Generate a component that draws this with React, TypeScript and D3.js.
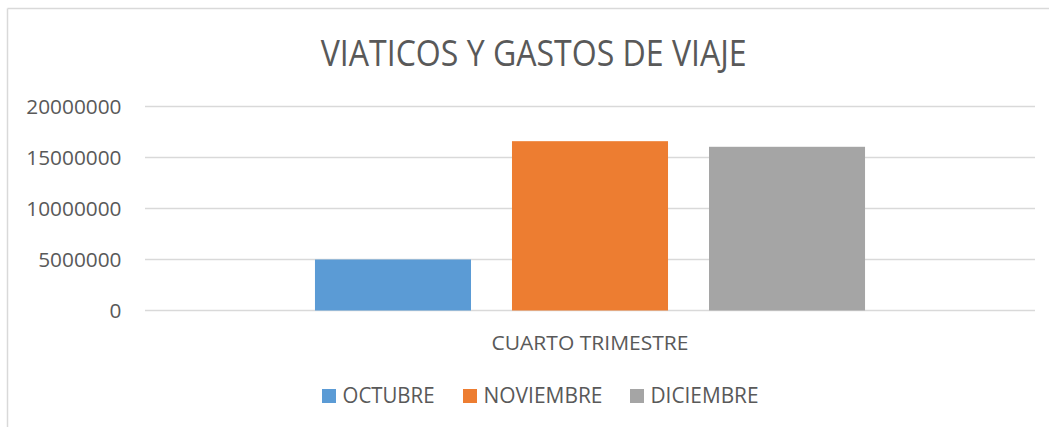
import React from "react";
import * as d3 from "d3";

const title = "VIATICOS Y GASTOS DE VIAJE";
const categories = ["CUARTO TRIMESTRE"];
const seriesNames = ["OCTUBRE", "NOVIEMBRE", "DICIEMBRE"];
const seriesValues = [5000000, 16600000, 16050000];
const seriesColors = ["#5B9BD5", "#ED7D31", "#A5A5A5"];
const yTicks = [0, 5000000, 10000000, 15000000, 20000000];

const W = 1049;
const H = 427;
const plotLeft = 145;
const plotRight = 1035;
const plotTop = 106.5;
const plotBottom = 310.5;
const textColor = "#595959";
const font = "'Open Sans', sans-serif";

export default function App() {
  const x0 = d3
    .scaleBand<string>()
    .domain(categories)
    .range([plotLeft, plotRight])
    .paddingInner(0)
    .paddingOuter(0.309);
  const x1 = d3
    .scaleBand<string>()
    .domain(seriesNames)
    .range([0, x0.bandwidth()])
    .paddingInner(0.208)
    .paddingOuter(0);
  const y = d3.scaleLinear().domain([0, 20000000]).range([plotBottom, plotTop]);

  const legendX = [322, 463, 630];
  const legendTextLen = [92, 119, 108];

  return (
    <svg
      width={W}
      height={H}
      style={{ position: "absolute", left: 0, top: 0, display: "block", background: "#fff" }}
      fontFamily={font}
    >
      <rect x={0} y={0} width={W} height={H} fill="#fff" />
      <line x1={7.5} y1={8.5} x2={W} y2={8.5} stroke="#D9D9D9" strokeWidth={1.5} />
      <line x1={7.5} y1={8.5} x2={7.5} y2={H} stroke="#D9D9D9" strokeWidth={1.5} />

      <text
        x={533.7}
        y={66}
        textAnchor="middle"
        fontSize={36}
        fill={textColor}
        textLength={426}
        lengthAdjust="spacingAndGlyphs"
      >
        {title}
      </text>

      {yTicks.map((t) => (
        <g key={t}>
          <line
            x1={plotLeft}
            x2={plotRight}
            y1={y(t)}
            y2={y(t)}
            stroke="#D9D9D9"
            strokeWidth={1.5}
          />
          <text
            x={121.5}
            y={y(t) + 7.5}
            textAnchor="end"
            fontSize={20.5}
            fill={textColor}
            textLength={String(t).length * 11.9}
            lengthAdjust="spacingAndGlyphs"
          >
            {String(t)}
          </text>
        </g>
      ))}

      {categories.map((c) => (
        <g key={c} transform={`translate(${x0(c)},0)`}>
          {seriesNames.map((s, i) => (
            <rect
              key={s}
              x={x1(s)}
              y={y(seriesValues[i])}
              width={x1.bandwidth()}
              height={y(0) - y(seriesValues[i])}
              fill={seriesColors[i]}
            />
          ))}
        </g>
      ))}

      {categories.map((c) => (
        <text
          key={c}
          x={(x0(c) as number) + x0.bandwidth() / 2}
          y={350}
          textAnchor="middle"
          fontSize={20.5}
          fill={textColor}
          textLength={197}
          lengthAdjust="spacingAndGlyphs"
        >
          {c}
        </text>
      ))}

      {seriesNames.map((s, i) => (
        <g key={s} transform={`translate(${legendX[i]},389)`}>
          <rect x={0} y={0} width={14} height={14} fill={seriesColors[i]} />
          <text
            x={20.5}
            y={14.3}
            fontSize={21}
            fill={textColor}
            textLength={legendTextLen[i]}
            lengthAdjust="spacingAndGlyphs"
          >
            {s}
          </text>
        </g>
      ))}
    </svg>
  );
}
